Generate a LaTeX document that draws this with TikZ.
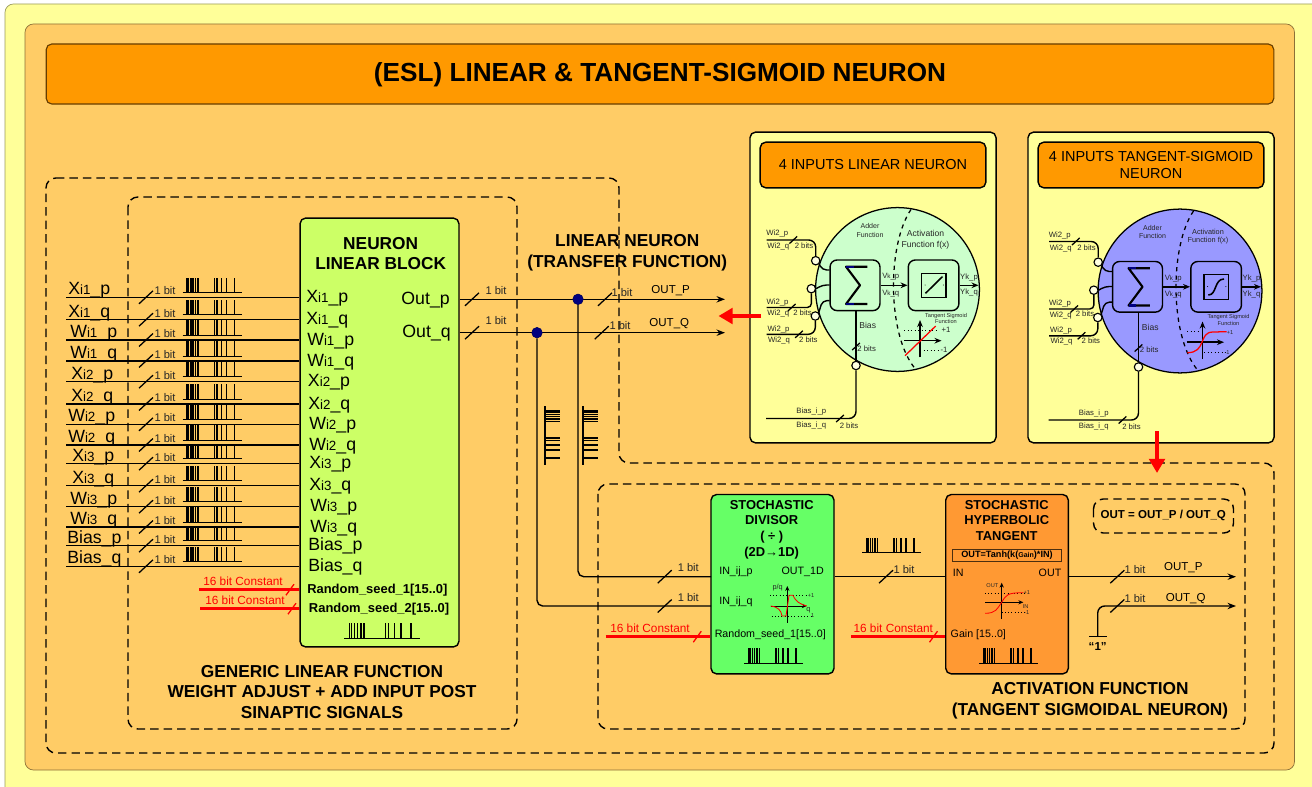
\documentclass[tikz,border=0pt]{standalone}
\usepackage{fontspec}
\setmainfont{Liberation Sans}
\usepackage{tikz}
\usetikzlibrary{arrows.meta, positioning, calc}
\definecolor{pagecol}{RGB}{255,255,153}
\definecolor{framecol}{RGB}{255,204,102}
\definecolor{headcol}{RGB}{255,153,0}
\definecolor{panelcol}{RGB}{255,255,153}
\definecolor{blockgreen}{RGB}{204,255,102}
\definecolor{divgreen}{RGB}{102,255,102}
\definecolor{tanhcol}{RGB}{255,153,51}
\definecolor{cellgreen}{RGB}{204,255,204}
\definecolor{cellblue}{RGB}{153,153,255}
\definecolor{dotnavy}{RGB}{0,0,128}
\newcommand{\sigtxt}[3]{#1{\fontsize{9.5}{10}\selectfont #2}\_#3}
\tikzset{
  basebox/.style={rectangle,rounded corners=4pt,draw=black,line width=1pt,inner sep=0pt},
  panelbox/.style={basebox,fill=panelcol},
  headbox/.style={basebox,fill=headcol,align=center,font=\fontsize{10.3}{12.3}\selectfont},
  blocktext/.style={align=center,font=\fontsize{12.3}{14.7}\bfseries\selectfont},
  smalltitle/.style={align=center,font=\fontsize{9.2}{11}\bfseries\selectfont},
  siglbl/.style={font=\fontsize{12.6}{14}\selectfont,anchor=base west,inner sep=0pt},
  bitlbl/.style={font=\fontsize{7.9}{9}\selectfont,inner sep=0pt,text=black!85},
  portlbl/.style={font=\fontsize{7.6}{9}\selectfont,inner sep=0pt},
  redlbl/.style={font=\fontsize{8.4}{10}\selectfont,inner sep=0pt,text=red},
  tinylbl/.style={font=\fontsize{5.5}{6.5}\selectfont,inner sep=0pt,text=black!85},
  microlbl/.style={font=\fontsize{4}{5}\selectfont,inner sep=0pt,text=black!85,align=center},
  wire/.style={line width=1pt},
  arrwire/.style={wire,-{Stealth[length=6pt,width=4.5pt]}},
  redwire/.style={line width=2pt,color=red},
  bigred/.style={line width=3.4pt,color=red,-{Triangle[length=10pt,width=11pt]}},
  dashbox/.style={dashed,dash pattern=on 6pt off 3.6pt,line width=1pt,rounded corners=7pt},
  junct/.style={circle,draw=black,fill=white!70!panelcol,line width=0.8pt,minimum size=6pt,inner sep=0pt},
  netdot/.style={circle,fill=dotnavy,draw=dotnavy!70!black,minimum size=7.5pt,inner sep=0pt},
  pulsetrain/.pic={
    \draw[line width=0.8pt] (0,0) -- (59,0);
    \foreach \b in {4.3,6,8.3,10.5,13,15.5,32,34.5,39,44,52}
      \draw[line width=1.05pt] (\b,0) -- (\b,-15);
  },
  slash/.pic={\draw[line width=0.9pt] (-7,6.5) -- (7,-6.5);},
  redslash/.pic={\draw[line width=0.9pt,red] (-4,5.5) -- (4,-5.5);},
  %% one neuron cell, placed at the centre of its circle
  neuroncell/.pic={
    \node[circle,draw=black,line width=0.9pt,fill=#1,minimum size=116.5pt,inner sep=0pt] (cell) at (0,0) {};
    \node[basebox,minimum width=35.5pt,minimum height=36pt,fill=#1,rounded corners=5pt] (sum) at (-42.5,-4.2) {};
    \node[basebox,minimum width=36pt,minimum height=36pt,fill=#1,rounded corners=5pt] (act) at (36.1,-4.2) {};
    \draw[line width=1.5pt,line join=round] (-30.2,-22.8) -- (-51.5,-22.8) -- (-37.5,-4.2) -- (-51.5,14.5) -- (-30.2,14.5);
    \draw[line width=1.5pt,dotnavy] (-51.5,-22.8) -- (-44,-22.8) (-51.5,14.5) -- (-44,14.5);
    \node[rectangle,draw=black,line width=1pt,minimum size=17.4pt,inner sep=0pt] (actin) at (36.2,-4) {};
    \fill (27.5,-4.5) circle (0.5) (45.8,-4.5) circle (0.5);
    \draw[dashed,line width=0.9pt] (13.5,-80) .. controls (-10.5,-45) and (-10.5,45) .. (17.5,79);
    %% inputs
    \node[junct] (j1) at (-81.8,-28.8) {};
    \node[junct] (j2) at (-86.2,-0.8) {};
    \node[junct] (j3) at (-82.2,26.5) {};
    \node[junct] (j4) at (-41.5,76) {};
    \coordinate (w1) at (-130.8,-49.5);
    \coordinate (w2) at (-130.8,18);
    \coordinate (w3) at (-130.8,44.8);
    \coordinate (w4) at (-131.5,129);
    \draw[wire,rounded corners=5pt] (w1) -- (-81.8,-49.5) -- (j1.north);
    \draw[wire,rounded corners=3pt] (w2) -- (-86,18) -- (j2.south);
    \draw[wire,rounded corners=5pt] (w3) -- (-82.2,44.8) -- (j3.south);
    \draw[wire,rounded corners=5pt] (w4) -- (-41.5,129) -- (j4.south);
    \draw[wire] (j4.north) -- (-41.5,21.5);
    \draw[wire,rounded corners=3pt] (j1.south east) -- (-75,-19.5) -- (-67.8,-19.5);
    \draw[wire,rounded corners=3pt] (j2.east) -- (-75,-4.5) -- (-67.8,-4.5);
    \draw[wire,rounded corners=3pt] (j3.north east) -- (-75,11.2) -- (-67.8,11.2);
    \foreach \sx/\sy in {-104.2/-49.5,-105.8/18,-98.5/44.8,-57.5/129,-41.5/57}
      \pic[scale=0.55] at (\sx,\sy) {slash};
    \foreach \tx/\ty/\lab in {-120.2/-55.5/Wi2\_p,-119.2/-42.8/Wi2\_q,-120/12.5/Wi2\_p,-119.2/24/Wi2\_q,
        -119/39.5/Wi2\_p,-118.5/50.8/Wi2\_q,-93.5/-43.5/2 bits,-95/23/2 bits,-89.2/50/2 bits,
        -30.8/59/2 bits,-86.2/122/Bias\_i\_p,-86.2/135.8/Bias\_i\_q,-48.5/135.8/2 bits,
        -6.8/-12.8/V{\fontsize{4.5}{4.5}\selectfont k}\_p,-6.8/3.8/V{\fontsize{4.5}{4.5}\selectfont k}\_q,
        71.5/-12.5/Yk\_p,71.5/3.2/Yk\_q}
      \node[tinylbl] at (\tx,\ty) {\lab};
    \node[font=\fontsize{6.1}{7}\selectfont,inner sep=0pt,text=black!85] at (-29.8,36) {Bias};
    \node[microlbl,font=\fontsize{5}{6.2}\selectfont] at (-27.5,-59) {Adder\\Function};
    %% through
    \draw[arrwire,-{Stealth[length=5pt,width=4pt]}] (sum.east) -- (act.west);
    \draw[arrwire,-{Stealth[length=5pt,width=4pt]}] (act.east) -- (81,-4.2);
    %% axes
    \draw[wire,-{Stealth[length=5pt,width=4pt]}] (22.5,67.8) -- (22.5,30.5);
    \draw[wire,-{Stealth[length=5pt,width=4pt]}] (6.5,51.2) -- (44,51.2);
    \node[microlbl,font=\fontsize{4}{4.8}\selectfont] at (48.5,29) {Tangent Sigmoid\\Function};
  }
}
\begin{document}
\begin{tikzpicture}[x=0.025cm,y=-0.025cm]
  \useasboundingbox (0,0) rectangle (1312,787);
  \fill[white] (0,0) rectangle (1312,787);
  \begin{scope}
    \clip (0,0) rectangle (1312,787);
    \draw[fill=pagecol,draw=black!40!pagecol,line width=0.5pt,rounded corners=6pt] (5,4) rectangle (1340,820);
  \end{scope}
  \draw[fill=framecol,draw=black!45!framecol,line width=0.5pt,rounded corners=6pt] (25,24) rectangle (1294.5,770);

  %% Title
  \node[basebox,line width=0.8pt,draw=black!60!headcol,fill=headcol,minimum width=873pt,minimum height=42.7pt] (title) at (660,74) {};
  \node[inner sep=0pt,font=\fontsize{18.6}{20}\bfseries\selectfont] (titletext) at (660,74.5)
    {(ESL) LINEAR \& TANGENT-SIGMOID NEURON};

  %% Dashed groups
  \draw[dashbox] (46,178) -- (619,178) -- (619,463) -- (1274,463) -- (1274,753) -- (46,753) -- cycle;
  \draw[dashbox] (128,197) rectangle (517,729);
  \draw[dashbox] (598,484) rectangle (1245,729);
  \draw[dashbox] (1093.5,499) rectangle (1233.5,533);

  %% Linear block
  \node[basebox,fill=blockgreen,minimum width=113pt,minimum height=305pt] (block) at (379.5,432.5) {};
  \node[blocktext] (blocktitle) at (380.7,253.5) {NEURON\\LINEAR BLOCK};
  \node[blocktext] (blockcap) at (322,692) {GENERIC LINEAR FUNCTION\\WEIGHT ADJUST + ADD INPUT POST\\SINAPTIC SIGNALS};
  \pic[xscale=1.29] at (344,638.3) {pulsetrain};

  %% Input rows
  \foreach \i/\y/\ysig/\sub/\suf/\lx/\rx in {
      1/297.3/X/i1/p/68/306, 2/319.7/X/i1/q/68/306,
      3/340/W/i1/p/70/307, 4/361/W/i1/q/70/307,
      5/381.7/X/i2/p/71/307.7, 6/404/X/i2/q/71/308,
      7/424.3/W/i2/p/68/309, 8/445/W/i2/q/68/309,
      9/463.7/X/i3/p/72/309, 10/485.7/X/i3/q/72/309,
      11/506.7/W/i3/p/70/310, 12/527/W/i3/q/70/310,
      13/545.7/Bias//p/67/308, 14/566.3/Bias//q/67/308} {
    \coordinate (in\i) at (66,\y);
    \draw[wire] (in\i) -- (in\i -| block.west);
    \pic at (146,\y) {slash};
    \pic at (182.5,\y-4.8) {pulsetrain};
    \node[bitlbl] (bit\i) at (165,\y-6.5) {1 bit};
    \node[siglbl] (lsig\i) at (\lx,\y-2.5) {\sigtxt{\ysig}{\sub}{\suf}};
    \node[siglbl] (rsig\i) at (\rx,\y+5) {\sigtxt{\ysig}{\sub}{\suf}};
  }

  %% Seeds
  \coordinate (seedA) at (199,589.7);
  \coordinate (seedB) at (200,608.7);
  \draw[redwire] (seedA) -- (seedA -| block.west);
  \draw[redwire] (seedB) -- (seedB -| block.west);
  \pic at (290,589.7) {redslash};
  \pic at (292,608.7) {redslash};
  \node[redlbl] (constA) at (243,581) {16 bit Constant};
  \node[redlbl] (constB) at (245,600) {16 bit Constant};
  \node[inner sep=0pt,anchor=base west,font=\fontsize{9.2}{11}\bfseries\selectfont] (seedtA) at (307,593) {Random\_seed\_1[15..0]};
  \node[inner sep=0pt,anchor=base west,font=\fontsize{9.2}{11}\bfseries\selectfont] (seedtB) at (308.7,612.7) {Random\_seed\_2[15..0]};

  %% Block outputs
  \node[font=\fontsize{12.6}{14}\selectfont,inner sep=0pt,anchor=base east] (outp) at (450,304.7) {Out\_p};
  \node[font=\fontsize{12.6}{14}\selectfont,inner sep=0pt,anchor=base east] (outq) at (451,337.3) {Out\_q};
  \coordinate (outa) at (725,299.3);
  \coordinate (outb) at (725,332.7);
  \draw[arrwire] (outa -| block.east) -- (outa);
  \draw[arrwire] (outb -| block.east) -- (outb);
  \foreach \sx/\sy in {472/299.3,472/332.7,605/299.3,601.7/332.7}
    \pic at (\sx,\sy) {slash};
  \foreach \tx/\ty in {496/290.7,496/321,622/292.5,620/325.7}
    \node[bitlbl] at (\tx,\ty) {1 bit};
  \node[portlbl,font=\fontsize{8.2}{9}\selectfont] (outlp) at (670.7,290.7) {OUT\_P};
  \node[portlbl,font=\fontsize{8.2}{9}\selectfont] (outlq) at (669.3,323.3) {OUT\_Q};
  \node[blocktext] (transcap) at (627.3,252.5) {LINEAR NEURON\\(TRANSFER FUNCTION)};
  \node[netdot] (dotp) at (578,299.3) {};
  \node[netdot] (dotq) at (537,332.7) {};

  %% Divisor
  \node[basebox,fill=divgreen,minimum width=87.5pt,minimum height=127.6pt] (divisor) at (772.5,584.2) {};
  \node[smalltitle] (divtitle) at (771.7,505.5) {STOCHASTIC};
  \node[smalltitle] (divtitleb) at (771.7,520.5) {DIVISOR};
  \node[smalltitle] (divtitlec) at (771.7,536.7) {( ÷ )};
  \node[smalltitle] (divtitled) at (771.7,552.7) {(2D→1D)};
  \node[portlbl,anchor=west] (inp) at (719,572) {IN\_ij\_p};
  \node[portlbl,anchor=west] (inq) at (719,602) {IN\_ij\_q};
  \node[portlbl] (out1d) at (802.7,572) {OUT\_1D};
  \node[portlbl] (divseed) at (770.3,634.3) {Random\_seed\_1[15..0]};
  \pic at (744,663.3) {pulsetrain};
  \coordinate (divp) at (711,576.7);
  \coordinate (divq) at (711,606);
  \draw[wire,rounded corners=4pt] (dotp) |- (divp);
  \draw[wire,rounded corners=4pt] (dotq) |- (divq);
  \pic[rotate=-90] at (545,406) {pulsetrain};
  \pic[rotate=-90] at (583,406) {pulsetrain};
  \pic at (664.7,576.7) {slash};
  \pic at (664.7,606) {slash};
  \node[bitlbl] at (688.3,567.7) {1 bit};
  \node[bitlbl] at (688.3,597.7) {1 bit};
  \coordinate (constC) at (605.7,636.7);
  \draw[redwire] (constC) -- (constC -| divisor.west);
  \pic at (697.3,636.7) {redslash};
  \node[redlbl] (constlC) at (650,628.3) {16 bit Constant};
  %% divisor graph
  \draw[line width=0.3pt,dotted] (770,595.3) -- (808,595.3) (771.7,616) -- (811,616);
  \draw[line width=0.7pt,-{Stealth[length=3.5pt,width=3pt]}] (787.3,622.7) -- (787.3,586);
  \draw[line width=0.7pt,-{Stealth[length=3.5pt,width=3pt]}] (770.7,606) -- (806.7,606);
  \draw[red,line width=0.6pt] (770.7,606) .. controls (778,607) and (781,610) .. (782,616) -- (786,616) -- (789,595.3) -- (793,595.3) .. controls (796,602) and (800,604) .. (806.7,606);
  \node[microlbl,font=\fontsize{5.2}{6}\selectfont] (pq) at (777.7,587.7) {p/q};
  \node[microlbl] (divA) at (811,595.3) {+1};
  \node[microlbl,font=\fontsize{5.2}{6}\selectfont] (divB) at (808.3,610) {q};
  \node[microlbl] (divC) at (812.7,616) {1};

  %% Hyperbolic tangent
  \node[basebox,fill=tanhcol,minimum width=87.2pt,minimum height=127.6pt] (tanhblk) at (1007,584.2) {};
  \node[smalltitle,font=\fontsize{9.2}{11.1}\bfseries\selectfont] (tanhtitle) at (1006.7,520.5) {STOCHASTIC\\HYPERBOLIC\\TANGENT};
  \node[rectangle,draw=black!70!tanhcol,line width=0.5pt,minimum width=77.5pt,minimum height=8.8pt,inner sep=0pt,font=\fontsize{6.5}{7}\bfseries\selectfont] (formula) at (1007,555.5)
    {OUT=Tanh(k({\fontsize{5}{6}\selectfont Gain})*IN)};
  \node[portlbl] (tin) at (958.3,573.3) {IN};
  \node[portlbl] (tout) at (1050,572.7) {OUT};
  \node[portlbl] (gain) at (978.3,634.3) {Gain [15..0]};
  \pic at (979,663.3) {pulsetrain};
  \coordinate (tanhin) at (945.7,576.7);
  \draw[wire] (tanhin -| divisor.east) -- (tanhin);
  \pic at (886,576.7) {slash};
  \node[bitlbl] at (904,570) {1 bit};
  \pic at (862,552.7) {pulsetrain};
  \coordinate (constD) at (851,636.7);
  \draw[redwire] (constD) -- (constD -| tanhblk.west);
  \pic at (933.5,636.7) {redslash};
  \node[redlbl] (constlD) at (893.3,628.3) {16 bit Constant};
  %% tanh graph
  \draw[line width=0.3pt,dotted] (985,593.3) -- (1025,593.3) (1001.7,612.7) -- (1026,612.7);
  \draw[line width=0.7pt,-{Stealth[length=3.5pt,width=3pt]}] (1001.7,619) -- (1001.7,582.7);
  \draw[line width=0.7pt,-{Stealth[length=3.5pt,width=3pt]}] (985,602.3) -- (1023.3,602.3);
  \draw[red,line width=0.6pt] (985,613.3) .. controls (996,613.3) and (997,609) .. (1001.7,602.3) .. controls (1006,595) and (1007,592.7) .. (1023.3,592.7);
  \node[microlbl] (tOut) at (992.3,585.3) {OUT};
  \node[microlbl] (tP) at (1026.7,592.7) {+1};
  \node[microlbl] (tIn) at (1025.7,606.7) {IN};
  \node[microlbl] (tM) at (1026.7,612.3) {-1};

  %% Final outputs
  \coordinate (fina) at (1236,576.7);
  \coordinate (finb) at (1236,606);
  \coordinate (gnd) at (1097.7,636.7);
  \draw[arrwire] (fina -| tanhblk.east) -- (fina);
  \draw[arrwire,rounded corners=5pt] (gnd) |- (finb);
  \draw[wire] (1089,636.7) -- (1106.7,636.7);
  \node[inner sep=0pt,font=\fontsize{8.2}{9}\bfseries\selectfont] (one) at (1097.7,646.5) {“1”};
  \pic at (1117.3,576.7) {slash};
  \pic at (1117.3,606) {slash};
  \node[bitlbl] at (1135,570) {1 bit};
  \node[bitlbl] at (1135,599) {1 bit};
  \node[portlbl,font=\fontsize{8.2}{9}\selectfont] (fp) at (1183.3,567.7) {OUT\_P};
  \node[portlbl,font=\fontsize{8.2}{9}\selectfont] (fq) at (1185.7,599) {OUT\_Q};
  \node[inner sep=0pt,font=\fontsize{8.2}{10}\bfseries\selectfont] (ratio) at (1163.3,515) {OUT = OUT\_P / OUT\_Q};
  \node[blocktext] (actcap) at (1090,701) {ACTIVATION FUNCTION\\(TANGENT SIGMOIDAL NEURON)};

  %% Linear neuron panel
  \node[panelbox,minimum width=175pt,minimum height=221pt] (panelL) at (873,287.5) {};
  \node[headbox,minimum width=160.5pt,minimum height=32.5pt] (headL) at (873,165) {4 INPUTS LINEAR NEURON};
  \pic (lin) at (897.5,289.5) {neuroncell=cellgreen};
  \node[microlbl,font=\fontsize{6.1}{7.2}\selectfont] (actL) at (925.5,239.8) {Activation\\Function f(x)};
  \draw[line width=1.1pt] (925.5,293.3) -- (942.5,276.6);
  \draw[red,line width=0.9pt] (905,355.7) -- (935.7,326);
  \draw[line width=0.5pt,dotted] (904,330) -- (938,330) (920,350) -- (938,350);
  \node[microlbl,font=\fontsize{5.5}{6}\selectfont] (plusL) at (946,330) {+1};
  \node[microlbl,font=\fontsize{5.5}{6}\selectfont] (minusL) at (944,350) {-1};

  %% Tangent-sigmoid neuron panel
  \node[panelbox,minimum width=175pt,minimum height=221pt] (panelT) at (1151,287.5) {};
  \node[headbox,minimum width=160.5pt,minimum height=32.5pt] (headT) at (1151,165) {4 INPUTS TANGENT-SIGMOID\\NEURON};
  \pic (tan) at (1180,291) {neuroncell=cellblue};
  \node[microlbl,font=\fontsize{5.2}{6.2}\selectfont] (actT) at (1208,236.5) {Activation\\Function f(x)};
  \draw[line width=1.1pt] (1208.3,295) .. controls (1217,295) and (1214,279) .. (1224,279);
  \draw[red,line width=0.9pt] (1187.3,352.7) .. controls (1207,352.7) and (1198,332) .. (1213,332) -- (1226.7,331.7);
  \draw[line width=0.5pt,dotted] (1187,331.7) -- (1200,331.7) (1204,352) -- (1226,352);
  \node[microlbl] (plusT) at (1230,332.3) {+1};
  \node[microlbl] (minusT) at (1227,352.3) {-1};

  %% Red pointers
  \coordinate (ptrA) at (761,316);
  \coordinate (ptrB) at (718.5,316);
  \coordinate (ptrC) at (1157,431);
  \coordinate (ptrD) at (1157,473);
  \draw[bigred] (ptrA) -- (ptrB);
  \draw[bigred] (ptrC) -- (ptrD);
\end{tikzpicture}
\end{document}
